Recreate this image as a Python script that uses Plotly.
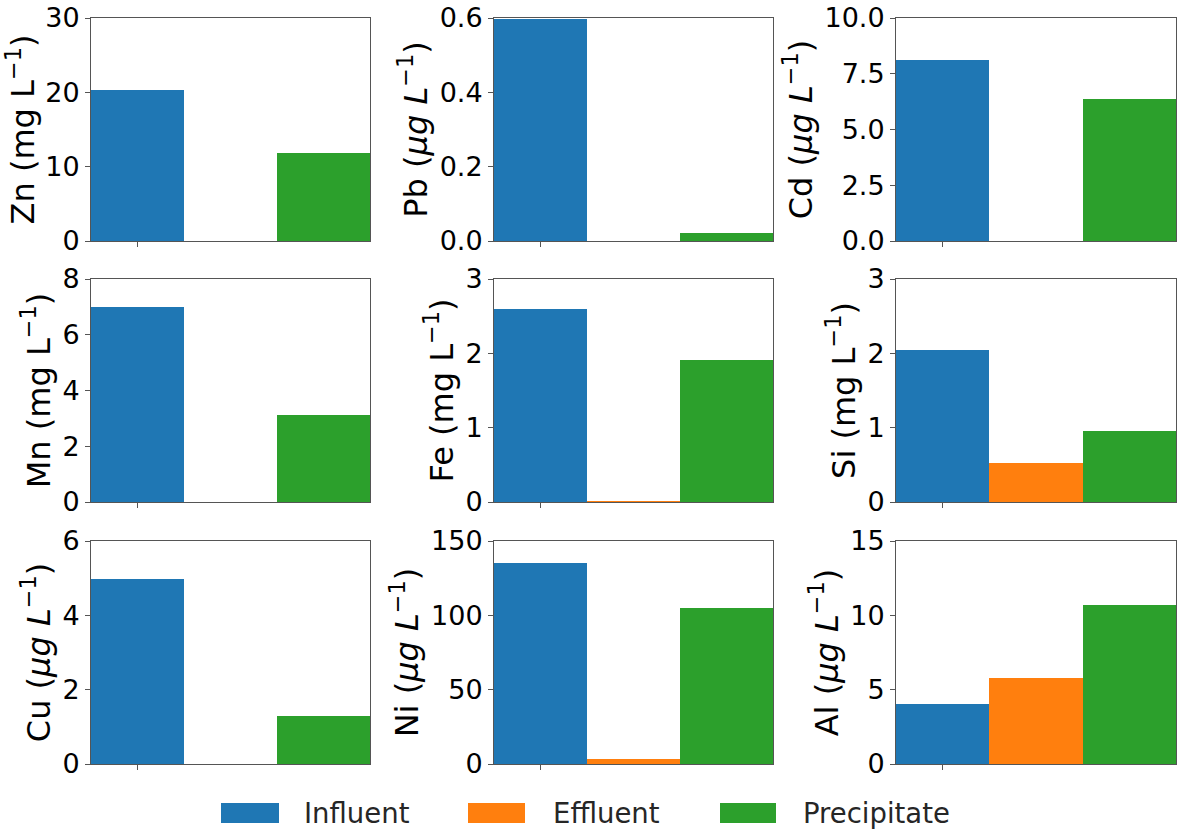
import plotly.graph_objects as go
from plotly.subplots import make_subplots

# Sample streams shown in every panel
series = ["Influent", "Effluent", "Precipitate"]
colors = ["#1f77b4", "#ff7f0e", "#2ca02c"]

# Element panels, row by row
elements = ["Zn", "Pb", "Cd", "Mn", "Fe", "Si", "Cu", "Ni", "Al"]
units = ["mg", "ug", "ug", "mg", "mg", "mg", "ug", "ug", "ug"]

# Concentrations per stream (same order as elements)
influent = [20.3, 0.597, 8.12, 7.0, 2.59, 2.05, 4.98, 135.2, 4.03]
effluent = [0.0, 0.0, 0.0, 0.0, 0.01, 0.53, 0.0, 3.4, 5.78]
precipitate = [11.9, 0.022, 6.37, 3.11, 1.905, 0.95, 1.28, 105.2, 10.7]

# Y-axis limits and tick spacing
y_max = [30, 0.6, 10, 8, 3, 3, 6, 150, 15]
y_dtick = [10, 0.2, 2.5, 2, 1, 1, 2, 50, 5]
y_fmt = ["d", ".1f", ".1f", "d", "d", "d", "d", "d", "d"]

W, H = 1182, 836
col_px = [(91, 370), (494, 773), (896, 1176)]
row_px = [(18, 241), (279, 502), (541, 764)]

fig = make_subplots(rows=3, cols=3)

values = [influent, effluent, precipitate]
FONT = "DejaVu Sans"
AX = "#555555"

for k, el in enumerate(elements):
    r, c = divmod(k, 3)
    for s, name in enumerate(series):
        fig.add_trace(
            go.Bar(
                x=[s], y=[values[s][k]], width=1.0, name=name,
                marker=dict(color=colors[s], line=dict(width=0)),
                legendgroup=name, showlegend=False,
            ),
            row=r + 1, col=c + 1,
        )
    x0, x1 = col_px[c]
    y0, y1 = row_px[r]
    xd = [x0 / W, x1 / W]
    yd = [1 - y1 / H, 1 - y0 / H]
    if units[k] == "mg":
        title = f"{el} (mg L<sup>−1</sup>)"
    else:
        title = f"{el} (<i>μg L</i><sup>−1</sup>)"
    fig.update_xaxes(
        domain=xd, range=[-0.5, 2.5], tickvals=[0], showticklabels=False,
        ticks="outside", ticklen=5, tickcolor=AX, showgrid=False,
        showline=True, linecolor=AX, linewidth=1, mirror=True, zeroline=False,
        automargin=False,
        row=r + 1, col=c + 1,
    )
    fig.update_yaxes(
        domain=yd, range=[0, y_max[k]], dtick=y_dtick[k], tick0=0,
        tickformat=y_fmt[k], ticks="outside", ticklen=5, tickcolor=AX,
        tickfont=dict(family=FONT, size=27, color="black"),
        showgrid=False, showline=True, linecolor=AX, linewidth=1, mirror=True,
        zeroline=False, automargin=False,
        title=dict(text=title, font=dict(family=FONT, size=32, color="black"), standoff=2),
        row=r + 1, col=c + 1,
    )

# Legend drawn along the bottom edge
leg_patch = [(221, 279), (468, 525), (720, 776)]
leg_text_x = [302, 551, 801]
shapes = []
annotations = []
for i, name in enumerate(series):
    px0, px1 = leg_patch[i]
    shapes.append(dict(
        type="rect", xref="paper", yref="paper",
        x0=px0 / W, x1=px1 / W, y0=1 - 823 / H, y1=1 - 803 / H,
        fillcolor=colors[i], line=dict(width=0),
    ))
    annotations.append(dict(
        text=name, xref="paper", yref="paper", x=leg_text_x[i] / W, y=1 - 813 / H,
        xanchor="left", yanchor="middle", showarrow=False,
        font=dict(family=FONT, size=27.5, color="#262626"),
    ))

fig.update_layout(
    width=W, height=H, margin=dict(l=0, r=0, t=0, b=0),
    paper_bgcolor="white", plot_bgcolor="white",
    bargap=0, showlegend=False,
    shapes=shapes, annotations=annotations,
    font=dict(family=FONT),
)

fig.write_html("out.html")
